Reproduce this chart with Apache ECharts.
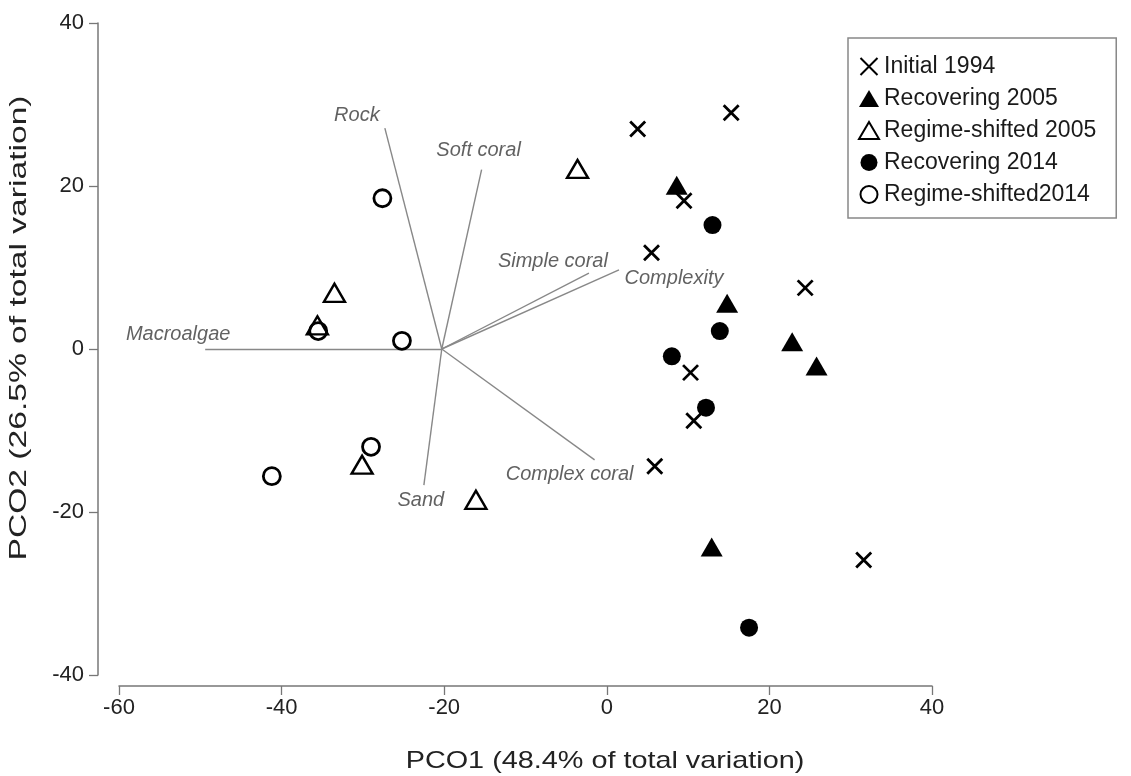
<!DOCTYPE html>
<html>
<head>
<meta charset="utf-8">
<script src="https://cdn.jsdelivr.net/npm/echarts@6/dist/echarts.min.js"></script>
<style>
html,body{margin:0;padding:0;background:#fff;}
#chart{width:1131px;height:776px;}
</style>
</head>
<body>
<div id="chart"></div>
<script>
// ---- data ----
const xTicks = [-60, -40, -20, 0, 20, 40];
const yTicks = [-40, -20, 0, 20, 40];
const seriesNames = ['Initial 1994', 'Recovering 2005', 'Regime-shifted 2005', 'Recovering 2014', 'Regime-shifted2014'];
const initial1994 = [[3.8,27.0],[15.3,29.0],[9.5,18.2],[5.5,11.8],[24.4,7.5],[10.3,-2.9],[10.7,-8.8],[5.9,-14.4],[31.6,-25.9]];
const recovering2005 = [[8.6,20.1],[14.8,5.6],[22.8,0.9],[25.8,-2.1],[12.9,-24.3]];
const regime2005 = [[-3.6,22.1],[-33.5,6.9],[-35.6,2.9],[-30.1,-14.2],[-16.1,-18.5]];
const recovering2014 = [[13.0,15.2],[13.9,2.2],[8.0,-0.9],[12.2,-7.2],[17.5,-34.2]];
const regime2014 = [[-27.6,18.5],[-25.2,1.0],[-35.5,2.2],[-29.0,-12.0],[-41.2,-15.6]];
const vectorOrigin = [-20.3, 0];
const vectorNames = ['Macroalgae','Rock','Soft coral','Simple coral','Complexity','Complex coral','Sand'];
const vectorEnds = [[-49.4,0],[-27.3,27.1],[-15.4,22.0],[-2.2,9.3],[1.5,9.7],[-1.5,-13.6],[-22.5,-16.7]];
const xTitle = 'PCO1 (48.4% of total variation)';
const yTitle = 'PCO2 (26.5% of total variation)';

// ---- styles (not data) ----
const labelOffsets = {
  'Macroalgae':[-27,-15], 'Rock':[-28,-13], 'Soft coral':[-3,-19], 'Simple coral':[-36,-12],
  'Complexity':[55,8], 'Complex coral':[-25,15], 'Sand':[-3,15]
};
const FONT = '"Liberation Sans", Arial, sans-serif';
const INK = '#000';

const chart = echarts.init(document.getElementById('chart'));
const option = {
  backgroundColor: '#fff',
  animation: false,
  grid: { left: 119, right: 199, top: 23, bottom: 101, containLabel: false, outerBoundsMode: 'none' },
  xAxis: {
    type: 'value', min: xTicks[0], max: xTicks[xTicks.length-1], interval: 20,
    offset: 11,
    splitLine: { show: false },
    axisLine: { show: true, onZero: false, lineStyle: { color: '#777', width: 1.5 } },
    axisTick: { show: true, length: 9, lineStyle: { color: '#777', width: 1.3 } },
    axisLabel: { color: '#222', fontSize: 22, fontFamily: FONT, margin: 11 }
  },
  yAxis: {
    type: 'value', min: yTicks[0], max: yTicks[yTicks.length-1], interval: 20,
    offset: 21,
    splitLine: { show: false },
    axisLine: { show: true, onZero: false, lineStyle: { color: '#777', width: 1.5 } },
    axisTick: { show: true, length: 9, lineStyle: { color: '#777', width: 1.3 } },
    axisLabel: { color: '#222', fontSize: 22, fontFamily: FONT, margin: 14 }
  },
  legend: {
    orient: 'vertical', left: 848, top: 38,
    padding: [17, 20, 12, 10],
    borderColor: '#888', borderWidth: 1.5,
    itemWidth: 20, itemHeight: 17, itemGap: 9,
    textStyle: { fontSize: 23, fontFamily: FONT, color: '#1a1a1a' },
    data: seriesNames
  },
  graphic: [
    { type: 'text', x: 605, y: 749, scaleX: 1.2,
      style: { text: xTitle, font: '24px ' + FONT, fill: '#222', align: 'center', verticalAlign: 'top' } },
    { type: 'text', x: 7, y: 328, rotation: Math.PI/2, scaleX: 1.4,
      style: { text: yTitle, font: '24px ' + FONT, fill: '#222', align: 'center', verticalAlign: 'top' } }
  ],
  series: [
    {
      name: 'vectors', type: 'lines', coordinateSystem: 'cartesian2d', silent: true,
      lineStyle: { color: '#888', width: 1.4, opacity: 1 },
      data: vectorEnds.map(e => ({ coords: [vectorOrigin, e] }))
    },
    {
      name: 'vectorLabels', type: 'scatter', silent: true, symbolSize: 1,
      itemStyle: { color: 'rgba(0,0,0,0)' },
      label: { show: true, position: 'inside', fontSize: 20, fontStyle: 'italic', fontFamily: FONT, color: '#3a3a3a',
        formatter: p => p.name },
      data: vectorEnds.map((e, i) => ({ name: vectorNames[i], value: e, label: { offset: labelOffsets[vectorNames[i]] } }))
    },
    {
      name: seriesNames[0], type: 'scatter', data: initial1994,
      symbol: 'path://M0,0L10,10M10,0L0,10', symbolSize: 15,
      itemStyle: { color: 'rgba(0,0,0,0)', borderColor: INK, borderWidth: 2.8, opacity: 1 }
    },
    {
      name: seriesNames[1], type: 'scatter', data: recovering2005,
      symbol: 'triangle', symbolSize: [22, 19],
      itemStyle: { color: INK, opacity: 1 }
    },
    {
      name: seriesNames[2], type: 'scatter', data: regime2005,
      symbol: 'triangle', symbolSize: [21, 18],
      itemStyle: { color: 'rgba(0,0,0,0)', borderColor: INK, borderWidth: 2.4, opacity: 1 }
    },
    {
      name: seriesNames[3], type: 'scatter', data: recovering2014,
      symbol: 'circle', symbolSize: 18,
      itemStyle: { color: INK, opacity: 1 }
    },
    {
      name: seriesNames[4], type: 'scatter', data: regime2014,
      symbol: 'circle', symbolSize: 17,
      itemStyle: { color: 'rgba(0,0,0,0)', borderColor: INK, borderWidth: 2.8, opacity: 1 }
    }
  ]
};
chart.setOption(option);
</script>
</body>
</html>
